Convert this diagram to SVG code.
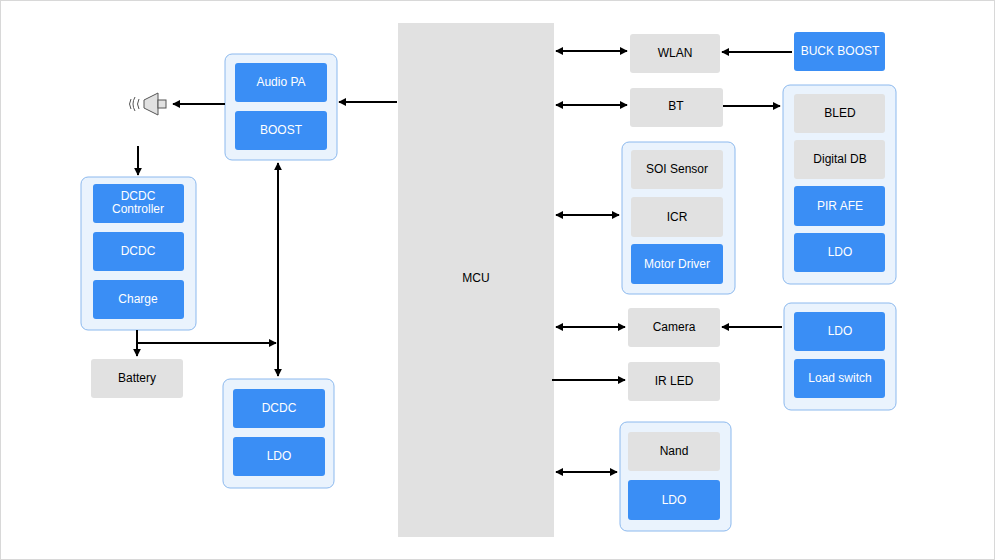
<svg xmlns="http://www.w3.org/2000/svg" width="995" height="560" viewBox="0 0 995 560">
<style>
text{font-family:"Liberation Sans",Arial,sans-serif;font-size:12px;text-anchor:middle;dominant-baseline:central}
.b{fill:#3a8ef5}.bt{fill:#fff}
.g{fill:#e1e1e1}
.grp{fill:#eaf3fd;stroke:#8cb9ee;stroke-width:1}
.c line,.c path{stroke:#000;stroke-width:2;fill:none}
</style>
<defs>
<marker id="a" viewBox="0 0 10 10" refX="9" refY="5" markerWidth="4" markerHeight="4" orient="auto-start-reverse"><path d="M0,0L10,5L0,10z" fill="#000"/></marker>
</defs>
<rect x="0.5" y="0.5" width="994" height="559" fill="#fff" stroke="#d8d8d8"/>
<g id="mcu"><rect x="398" y="23" width="156" height="514" class="g"/><text x="476" y="278" font-size="16">MCU</text></g>
<g id="audio"><rect x="225" y="54" width="112" height="106" rx="7" class="grp"/>
<rect x="235" y="63" width="92" height="39" rx="3" class="b"/><text x="281" y="82" class="bt">Audio PA</text>
<rect x="235" y="111" width="92" height="39" rx="3" class="b"/><text x="281" y="130" class="bt">BOOST</text></g>
<g id="speaker" fill="#e1e1e1" stroke="#555" stroke-width="1">
<path d="M144,100L158,93L158,115L144,108z"/><rect x="158" y="100" width="8" height="8"/>
<path d="M139,99q-3,5 0,10M135,97q-4,7 0,14M131,99q-3,5 0,10" fill="none"/></g>
<g id="dcdcgrp"><rect x="81" y="177" width="115" height="153" rx="7" class="grp"/>
<rect x="93" y="184" width="91" height="39" rx="3" class="b"/><text x="138" y="196" class="bt" font-size="11.5">DCDC</text><text x="138" y="209" class="bt" font-size="11.5">Controller</text>
<rect x="93" y="232" width="91" height="39" rx="3" class="b"/><text x="138" y="251" class="bt">DCDC</text>
<rect x="93" y="280" width="91" height="39" rx="3" class="b"/><text x="138" y="299" class="bt">Charge</text></g>
<g id="battery"><rect x="91" y="359" width="92" height="39" rx="3" class="g"/><text x="137" y="378">Battery</text></g>
<g id="pwr"><rect x="223" y="379" width="111" height="109" rx="7" class="grp"/>
<rect x="233" y="389" width="92" height="39" rx="3" class="b"/><text x="279" y="408" class="bt">DCDC</text>
<rect x="233" y="437" width="92" height="39" rx="3" class="b"/><text x="279" y="456" class="bt">LDO</text></g>
<g id="wlan"><rect x="630" y="34" width="90" height="39" rx="3" class="g"/><text x="675" y="53">WLAN</text></g>
<g id="buck"><rect x="794" y="32" width="91" height="39" rx="3" class="b"/><text x="840" y="51" class="bt">BUCK BOOST</text></g>
<g id="bt"><rect x="630" y="88" width="93" height="39" rx="3" class="g"/><text x="676" y="106">BT</text></g>
<g id="rg1"><rect x="783" y="85" width="113" height="199" rx="7" class="grp"/>
<rect x="794" y="94" width="91" height="39" rx="3" class="g"/><text x="840" y="113">BLED</text>
<rect x="794" y="140" width="91" height="39" rx="3" class="g"/><text x="840" y="159">Digital DB</text>
<rect x="794" y="186" width="91" height="40" rx="3" class="b"/><text x="840" y="206" class="bt">PIR AFE</text>
<rect x="794" y="233" width="91" height="39" rx="3" class="b"/><text x="840" y="252" class="bt">LDO</text></g>
<g id="sensors"><rect x="622" y="142" width="113" height="152" rx="7" class="grp"/>
<rect x="631" y="150" width="92" height="39" rx="3" class="g"/><text x="677" y="169">SOI Sensor</text>
<rect x="631" y="197" width="92" height="40" rx="3" class="g"/><text x="677" y="217">ICR</text>
<rect x="631" y="244" width="92" height="40" rx="3" class="b"/><text x="677" y="264" class="bt">Motor Driver</text></g>
<g id="camera"><rect x="628" y="308" width="92" height="39" rx="3" class="g"/><text x="674" y="327">Camera</text></g>
<g id="rg2"><rect x="784" y="303" width="112" height="107" rx="7" class="grp"/>
<rect x="794" y="312" width="91" height="39" rx="3" class="b"/><text x="840" y="331" class="bt">LDO</text>
<rect x="794" y="359" width="91" height="39" rx="3" class="b"/><text x="840" y="378" class="bt">Load switch</text></g>
<g id="irled"><rect x="628" y="362" width="92" height="39" rx="3" class="g"/><text x="674" y="381">IR LED</text></g>
<g id="nandg"><rect x="620" y="422" width="111" height="109" rx="7" class="grp"/>
<rect x="628" y="432" width="92" height="39" rx="3" class="g"/><text x="674" y="451">Nand</text>
<rect x="628" y="480" width="92" height="40" rx="3" class="b"/><text x="674" y="500" class="bt">LDO</text></g>
<g class="c" id="connectors">
<line x1="397" y1="102" x2="339" y2="102" marker-end="url(#a)"/>
<line x1="225" y1="104" x2="173" y2="104" marker-end="url(#a)"/>
<line x1="138" y1="146" x2="138" y2="175" marker-end="url(#a)"/>
<line x1="278" y1="163" x2="278" y2="376" marker-start="url(#a)" marker-end="url(#a)"/>
<path d="M137,330V356" marker-end="url(#a)"/>
<line x1="137" y1="343" x2="276" y2="343" marker-end="url(#a)"/>
<line x1="556" y1="51" x2="627" y2="51" marker-start="url(#a)" marker-end="url(#a)"/>
<line x1="792" y1="52" x2="722" y2="52" marker-end="url(#a)"/>
<line x1="556" y1="105" x2="627" y2="105" marker-start="url(#a)" marker-end="url(#a)"/>
<line x1="723" y1="106" x2="780" y2="106" marker-end="url(#a)"/>
<line x1="556" y1="215" x2="619" y2="215" marker-start="url(#a)" marker-end="url(#a)"/>
<line x1="556" y1="327" x2="625" y2="327" marker-start="url(#a)" marker-end="url(#a)"/>
<line x1="782" y1="327" x2="722" y2="327" marker-end="url(#a)"/>
<line x1="552" y1="380" x2="625" y2="380" marker-end="url(#a)"/>
<line x1="556" y1="472" x2="617" y2="472" marker-start="url(#a)" marker-end="url(#a)"/>
</g>
</svg>
